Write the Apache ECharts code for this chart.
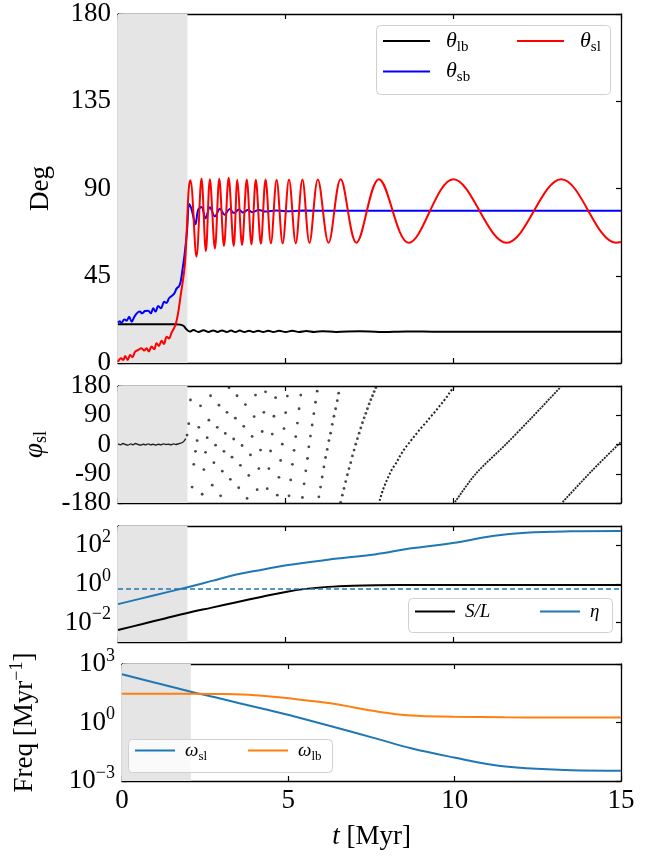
<!DOCTYPE html>
<html><head><meta charset="utf-8">
<script src="https://cdn.jsdelivr.net/npm/echarts@6.0.0/dist/echarts.min.js"></script>
<style>html,body{margin:0;padding:0;background:#fff}#c{width:660px;height:856px}</style>
</head><body><div id="c"></div>
<script>
// ---------------- data ----------------
const shadeEnd = 2.07;
const xTickStep = 5;
const degTickStep = 45;
const phiTickStep = 90;
const freqRatioTicks = [0.01, 1, 100];
const freqTicks = [0.001, 1, 1000];
const etaThreshold = 0.6;

const thetaLB = [[0,20.0],[0.6,20.0],[1.2,20.0],[1.7,20.0],[1.85,19.8],[1.95,19.2],[2.04,17.4],[2.14,16.2],[2.25,17.0],[2.4,16.0],[2.55,16.9],[2.7,16.0],[2.84,16.8],[2.97,16.0],[3.1,16.8],[3.24,16.0],[3.37,16.7],[3.5,16.0],[3.63,16.7],[3.77,16.0],[3.91,16.6],[4.04,16.0],[4.18,16.6],[4.33,16.0],[4.48,16.6],[4.64,16.0],[4.8,16.6],[5.0,16.0],[5.2,16.6],[5.4,16.0],[5.62,16.5],[5.85,16.0],[6.1,16.4],[6.5,16.0],[7.2,16.4],[7.8,16.0],[8.6,16.3],[9.6,16.1],[12,16.1],[15,16.1]];

const thetaSB = [[0,20.8],[0.05,21.5],[0.1,20.6],[0.19,22.5],[0.26,21.8],[0.33,23.9],[0.41,21.3],[0.48,23.6],[0.56,25.6],[0.65,26.5],[0.72,25.6],[0.8,26.8],[0.9,27.0],[0.98,25.6],[1.05,28.2],[1.12,26.5],[1.2,29.4],[1.28,28.2],[1.38,31.6],[1.45,31.0],[1.52,33.4],[1.6,34.6],[1.68,35.9],[1.75,38.5],[1.82,39.6],[1.87,42],[1.93,49],[1.99,56.5],[2.06,68.6],[2.12,82],[2.18,80],[2.24,76],[2.31,71.5],[2.39,79],[2.49,80.5],[2.61,74.6],[2.74,80.3],[2.89,75.6],[3.04,79.6],[3.18,76.4],[3.33,79.4],[3.46,77.3],[3.6,79.2],[3.73,77.6],[3.88,79],[4.0,77.8],[4.2,78.9],[4.4,78.1],[4.7,78.7],[5.0,78.3],[5.5,78.6],[6.5,78.5],[15,78.5]];

const thetaSL = [[0,0.7],[0.09,2.4],[0.16,1.5],[0.21,3.6],[0.29,1.6],[0.36,4.1],[0.43,3.0],[0.51,5.9],[0.6,6.7],[0.7,7.6],[0.78,6.4],[0.85,7.6],[0.92,5.9],[1.0,8.5],[1.08,7.1],[1.15,10.2],[1.22,8.8],[1.3,11.5],[1.37,9.8],[1.45,13.6],[1.52,12.7],[1.6,15.7],[1.67,17.9],[1.73,20.5],[1.8,26.5],[1.87,35],[1.94,43],[2.0,52],[2.06,72],[2.11,90],[2.16,94.3],[2.34,54.8],[2.49,95.2],[2.62,57.7],[2.74,94.8],[2.89,59.1],[3.02,95],[3.16,60.3],[3.30,95.5],[3.45,60.3],[3.56,94.5],[3.70,60.8],[3.84,94.6],[3.98,61.2],[4.11,94.5],[4.26,61.5],[4.40,94.7],[4.56,61.7],[4.73,94.5],[4.91,61.7],[5.10,94.6],[5.30,61.8],[5.50,94.7],[5.71,61.9],[5.96,94.7],[6.28,62],[6.64,94.8],[7.11,62],[7.78,94.8],[8.67,62],[10.0,94.8],[11.59,62],[13.22,94.8],[14.85,62],[15,62.4]];

const phiEarly = [[0,2],[0.08,-1],[0.15,3],[0.22,0],[0.3,-2],[0.38,2],[0.45,-1],[0.52,3],[0.6,0],[0.68,-2],[0.75,1],[0.82,-1],[0.9,2],[0.98,-1],[1.05,1],[1.12,-2],[1.2,1],[1.28,-1],[1.35,2],[1.42,0],[1.5,1],[1.58,-1],[1.65,2],[1.72,0],[1.8,2],[1.87,4],[1.93,7],[1.98,12],[2.02,18]];

const phiDots = [[2.06,29],[2.11,64],[2.16,137],[2.21,-131],[2.26,-61],[2.31,-21],[2.36,12],[2.41,53],[2.46,119],[2.51,-153],[2.56,-77],[2.61,-24],[2.66,21],[2.71,75],[2.76,150],[2.81,-125],[2.86,-56],[2.91,-2],[2.96,53],[3.01,121],[3.06,-158],[3.11,-82],[3.16,-21],[3.20,34],[3.25,99],[3.31,175],[3.35,-107],[3.40,-39],[3.45,17],[3.50,81],[3.55,150],[3.60,-133],[3.65,-64],[3.70,-3],[3.75,56],[3.80,123],[3.85,-166],[3.90,-95],[3.95,-32],[4.00,25],[4.06,86],[4.10,152],[4.15,-139],[4.20,-74],[4.25,-17],[4.30,40],[4.35,99],[4.40,162],[4.45,-136],[4.50,-74],[4.55,-20],[4.60,32],[4.65,87],[4.70,144],[4.75,-156],[4.80,-101],[4.85,-49],[4.90,1],[4.95,49],[5.00,98],[5.05,149],[5.10,-158],[5.15,-109],[5.20,-61],[5.25,-18],[5.30,24],[5.35,66],[5.40,110],[5.45,152],[5.50,-163],[5.55,-121],[5.60,-81],[5.65,-43],[5.69,-7],[5.74,26],[5.79,60],[5.84,95],[5.89,130],[5.94,164],[5.99,-161],[6.04,-131],[6.09,-100],[6.14,-69],[6.19,-40],[6.24,-15],[6.29,12],[6.34,35],[6.39,62],[6.44,87],[6.49,110],[6.54,135],[6.58,158],[6.64,-178],[6.69,-156],[6.74,-135],[6.79,-114],[6.84,-93],[6.89,-74],[6.94,-56],[6.99,-35],[7.04,-17],[7.09,1],[7.14,18],[7.19,35],[7.24,51],[7.29,67],[7.34,82],[7.39,96],[7.44,110],[7.49,125],[7.54,138],[7.59,150],[7.64,163],[7.69,175]];

const phiBand1 = [[7.80,-173],[7.90,-140],[8.00,-114],[8.10,-91],[8.19,-73],[8.29,-58],[8.39,-39],[8.49,-22],[8.59,-7],[8.69,6],[8.79,19],[8.89,32],[8.99,45],[9.09,57],[9.19,68],[9.29,81],[9.39,93],[9.48,104],[9.58,117],[9.68,130],[9.78,143],[9.88,158],[10.01,176]];
const phiBand2 = [[10.05,-177],[10.67,-90],[11.57,1],[12.36,85],[13.2,177]];
const phiBand3 = [[13.26,-177],[14.15,-79],[15,8]];

const ratioSL = [[0,0.0042],[0.7,0.0083],[1.4,0.0166],[2.07,0.032],[2.8,0.06],[3.5,0.11],[4.3,0.22],[5.0,0.39],[5.6,0.56],[6.26,0.71],[7.0,0.82],[7.7,0.87],[9,0.89],[11,0.89],[13,0.89],[15,0.89]];
const etaVals = [[0,0.091],[1.0,0.24],[2.07,0.68],[2.8,1.45],[3.53,3.1],[4.3,5.5],[5.02,9.3],[6.26,18],[7.7,35],[8.69,68],[9.98,132],[11.17,302],[12.16,450],[13.5,530],[15,550]];
const omegaSL = [[0,295],[1.0,110],[2.07,38],[2.8,19.5],[3.53,9.7],[4.3,4.8],[5.02,2.4],[6.26,0.66],[7.7,0.14],[8.69,0.048],[9.98,0.016],[11.17,0.0066],[12.16,0.0045],[13.5,0.0036],[15,0.0034]];
const omegaLB = [[0,30],[2.07,30],[3.0,29],[4.0,25],[5.02,17.4],[6.26,9.6],[7.7,3.6],[8.69,2.3],[9.98,2.0],[11.5,1.85],[13,1.8],[15,1.8]];

// ---------------- chart ----------------
const F = "'Liberation Serif','DejaVu Serif',serif";
const chart = echarts.init(document.getElementById('c'), null, {renderer:'canvas'});
const grids = [
  {left:118, top:14, width:503, height:349},
  {left:118, top:386, width:503, height:117},
  {left:118, top:526, width:503, height:116},
  {left:118, top:664, width:503, height:117}
];
const lineSt = {color:'#000', width:1.3};
const tickSt = {inside:true, length:5, lineStyle:{color:'#000', width:1.2}};
const supRich = {sup:{fontFamily:F, fontSize:18, padding:[0,0,16,0], color:'#000'}};
function powLabel(v){ const e = Math.round(Math.log10(v)); return '10{sup|' + (e<0 ? '\u2212'+(-e) : e) + '}'; }

const xAxis = [], yAxis = [];
for (let i=0;i<4;i++){
  const base = {gridIndex:i, type:'value', min:0, max:15, interval:xTickStep,
    axisLine:{show:true, onZero:false, lineStyle:lineSt}, axisTick:tickSt, splitLine:{show:false}};
  xAxis.push(Object.assign({}, base, {position:'bottom',
    axisLabel:{show:i===3, fontFamily:F, fontSize:27, color:'#000', margin:6},
    name: i===3 ? '{i|t} [Myr]' : '', nameLocation:'middle', nameGap:42,
    nameTextStyle:{fontFamily:F, fontSize:27, color:'#000', rich:{i:{fontFamily:F, fontSize:27, fontStyle:'italic', color:'#000'}}}}));
  xAxis.push(Object.assign({}, base, {position:'top', axisLabel:{show:false}}));
}
const yDefs = [
  {type:'value', min:0, max:180, interval:degTickStep, name:'Deg', nameGap:64},
  {type:'value', min:-180, max:180, interval:phiTickStep, name:'{i|\u03c6}{s|sl}', nameGap:66},
  {type:'log', min:0.001, max:1000, logBase:10, custom:freqRatioTicks, name:''},
  {type:'log', min:0.001, max:1000, logBase:10, custom:freqTicks, name:'Freq [Myr{sup|\u22121}]', nameGap:80}
];
yDefs.forEach((d,i)=>{
  const base = {gridIndex:i, type:d.type, min:d.min, max:d.max,
    axisLine:{show:true, onZero:false, lineStyle:lineSt}, splitLine:{show:false}, minorTick:{show:false}};
  if (d.type==='value') base.interval = d.interval; else base.logBase = d.logBase;
  const tick = Object.assign({}, tickSt); if (d.custom) tick.customValues = d.custom;
  const lab = {show:true, fontFamily:F, fontSize:27, color:'#000', margin:7, rich:supRich};
  if (d.custom){ lab.customValues = d.custom; lab.formatter = powLabel; }
  yAxis.push(Object.assign({}, base, {position:'left', axisTick:tick, axisLabel:lab,
    name:d.name, nameLocation:'middle', nameGap:d.nameGap || 60,
    nameTextStyle:{fontFamily:F, fontSize:27, color:'#000', rich:{
      i:{fontFamily:F, fontSize:27, fontStyle:'italic', color:'#000'},
      s:{fontFamily:F, fontSize:18, color:'#000', padding:[14,0,0,0]},
      sup:{fontFamily:F, fontSize:18, color:'#000', padding:[0,0,16,0]}}}}));
  yAxis.push(Object.assign({}, base, {position:'right', axisTick:tick, axisLabel:{show:false}}));
});

function shade(i){
  return {type:'line', xAxisIndex:2*i, yAxisIndex:2*i, data:[], z:1, silent:true,
    markArea:{silent:true, itemStyle:{color:'#e5e5e5'}, data:[[{xAxis:0},{xAxis:shadeEnd}]]}};
}
function ln(name, data, i, color, extra){
  return Object.assign({type:'line', name:name, data:data, xAxisIndex:2*i, yAxisIndex:2*i, symbol:'none',
    smooth:0.35, lineStyle:{color:color, width:2}, itemStyle:{color:color}, z:3}, extra||{});
}
const series = [
  shade(0),
  ln('theta_lb', thetaLB, 0, '#000000'),
  ln('theta_sb', thetaSB, 0, '#0000ff'),
  ln('theta_sl', thetaSL, 0, '#ff0000'),
  shade(1),
  ln('phi_early', phiEarly, 1, '#222', {lineStyle:{color:'#222', width:1.4}, smooth:0.2}),
  {type:'scatter', name:'phi', data:phiDots, xAxisIndex:2, yAxisIndex:2, symbolSize:2.8, itemStyle:{color:'#1a1a1a'}, z:3},
  ln('phi_b1', phiBand1, 1, '#222', {lineStyle:{color:'#222', width:2, type:[2,2]}, smooth:0.3}),
  ln('phi_b2', phiBand2, 1, '#222', {lineStyle:{color:'#222', width:1.8, type:[2,1]}, smooth:0.3}),
  ln('phi_b3', phiBand3, 1, '#222', {lineStyle:{color:'#222', width:1.8, type:[2,1]}, smooth:0.3}),
  shade(2),
  ln('SL', ratioSL, 2, '#000000', {smooth:0.4}),
  ln('eta', etaVals, 2, '#1f77b4', {smooth:0.4, markLine:{silent:true, symbol:['none','none'], label:{show:false},
      lineStyle:{color:'#1f77b4', type:[5,3], width:1.5}, data:[{yAxis:etaThreshold}]}}),
  shade(3),
  ln('omega_sl', omegaSL, 3, '#1f77b4', {smooth:0.4}),
  ln('omega_lb', omegaLB, 3, '#ff7f0e', {smooth:0.4})
];

const labels = {
  theta_lb:'{m|\u03b8}{s|lb}', theta_sb:'{m|\u03b8}{s|sb}', theta_sl:'{m|\u03b8}{s|sl}',
  SL:'{m|S/L}', eta:'{m|\u03b7}', omega_sl:'{m|\u03c9}{s|sl}', omega_lb:'{m|\u03c9}{s|lb}'
};
function legendRich(size, gap){
  return {m:{fontFamily:F, fontStyle:'italic', fontSize:size, color:'#000', padding:[0,0,0,gap], lineHeight:24},
          s:{fontFamily:F, fontSize:Math.round(size*0.7), color:'#000', padding:[12,0,0,0]}};
}
function lg(names, left, top, size, w, gap, orient){
  return {data:names, left:left, top:top, orient:orient||'horizontal', itemWidth:w, itemHeight:2, itemGap:6,
    icon:'rect', selectedMode:false, padding:0, z:20, formatter:n=>labels[n],
    textStyle:{fontFamily:F, fontSize:size, color:'#000', rich:legendRich(size, gap)}};
}
const legend = [
  lg(['theta_lb','theta_sb'], 383, 30, 22, 47, 11, 'vertical'),
  lg(['theta_sl'], 517, 30, 22, 47, 11),
  lg(['SL'], 415, 602, 19, 40, 5),
  lg(['eta'], 540, 602, 19, 40, 5),
  lg(['omega_sl'], 135, 741, 19, 40, 5),
  lg(['omega_lb'], 248, 741, 19, 40, 5)
];
const boxStyle = {fill:'rgba(255,255,255,0.8)', stroke:'#d0d0d0', lineWidth:1};
const graphic = [
  {type:'rect', left:376, top:25, shape:{width:234, height:69, r:4}, style:boxStyle, z:5},
  {type:'rect', left:408, top:598, shape:{width:204, height:34, r:4}, style:boxStyle, z:5},
  {type:'rect', left:128, top:739, shape:{width:204, height:33, r:4}, style:boxStyle, z:5}
];

chart.setOption({animation:false, backgroundColor:'#fff', grid:grids, xAxis:xAxis, yAxis:yAxis,
  series:series, legend:legend, graphic:graphic});
</script></body></html>
